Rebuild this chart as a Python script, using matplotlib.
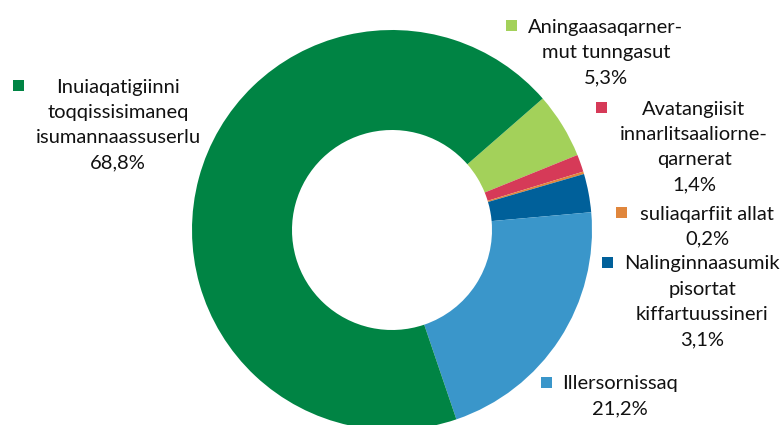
import matplotlib
matplotlib.use("Agg")
import matplotlib.pyplot as plt

# ---- data ----
categories = [
    "Aningaasaqarnermut tunngasut",
    "Avatangiisit innarlitsaaliornerqarnerat",
    "suliaqarfiit allat",
    "Nalinginnaasumik pisortat kiffartuussineri",
    "Illersornissaq",
    "Inuiaqatigiinni toqqissisimaneq isumannaassuserlu",
]
values = [5.3, 1.4, 0.2, 3.1, 21.2, 68.8]
value_labels = ["5,3%", "1,4%", "0,2%", "3,1%", "21,2%", "68,8%"]
label_lines = [
    ["Aningaasaqarner-", "mut tunngasut"],
    ["Avatangiisit", "innarlitsaaliorne-", "qarnerat"],
    ["suliaqarfiit allat"],
    ["Nalinginnaasumik", "pisortat", "kiffartuussineri"],
    ["Illersornissaq"],
    ["Inuiaqatigiinni", "toqqissisimaneq", "isumannaassuserlu"],
]
colors = ["#A3D15A", "#D63A58", "#E0863C", "#00609A", "#3A96CA", "#008444"]

W, H = 780, 425
fig = plt.figure(figsize=(W / 100, H / 100), dpi=100)
ax = fig.add_axes([0, 0, 1, 1])

cx, cy, R = 392, H - 230, 200
ax.pie(values, colors=colors, startangle=41.1, counterclock=False,
       center=(cx, cy), radius=R, frame=True,
       wedgeprops=dict(width=R * 0.5, linewidth=0))
ax.set_xlim(0, W)
ax.set_ylim(0, H)
ax.set_aspect("equal")
ax.axis("off")

# label layout: (square x, square y, text center x, first line y) in pixels (top-origin)
layout = [
    (511, 25, 606, 27),
    (601.5, 107, 694, 109),
    (621, 212.5, 707, 214),
    (607, 262, 702, 264),
    (546, 382.5, 620, 384),
    (18.3, 85, 118, 87),
]
spacing = 25.2
font = "Lato"
fs = 14.5
for (sx, sy, tx, ty), lines, vl, col in zip(layout, label_lines, value_labels, colors):
    ax.add_patch(plt.Rectangle((sx - 5.5, H - sy - 5.5), 11, 11, color=col, lw=0))
    for i, ln in enumerate(lines + [vl]):
        ax.text(tx, H - (ty + i * spacing), ln, ha="center", va="center",
                fontsize=fs, family=font, color="#111111")

fig.savefig("out.png", dpi=100)
